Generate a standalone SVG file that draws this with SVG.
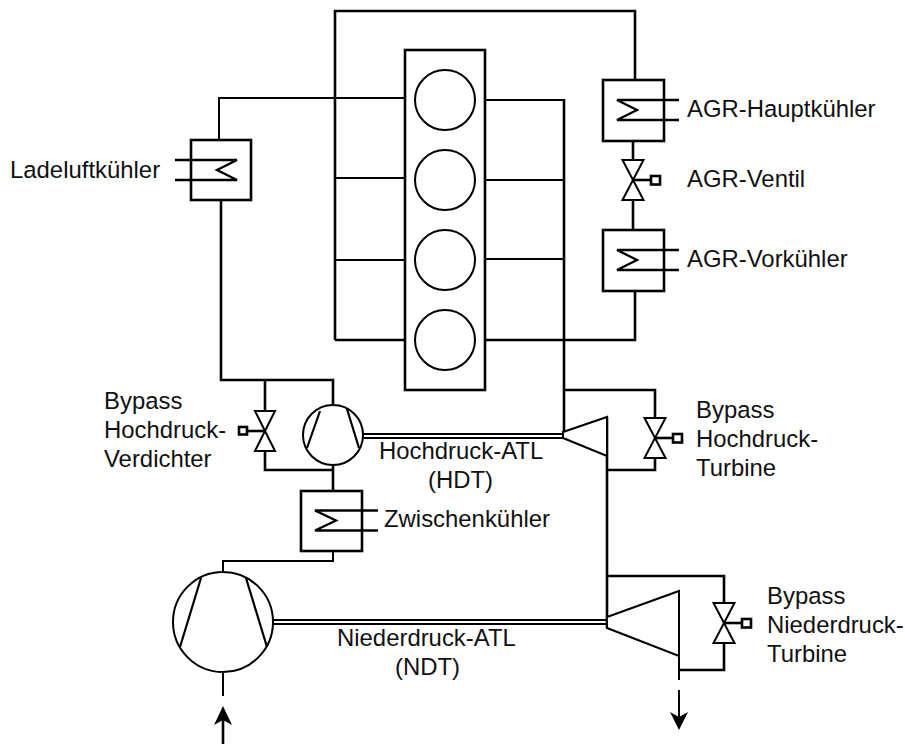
<svg xmlns="http://www.w3.org/2000/svg" width="905" height="744" viewBox="0 0 905 744">
<defs>
<style>
.l{fill:none;stroke:#000;stroke-width:2}
.t{fill:none;stroke:#000;stroke-width:2.6}
.c{fill:none;stroke:#000;stroke-width:2.3}
.h{fill:#fff;stroke:#000;stroke-width:2.6}
.b{fill:#fff;stroke:#000;stroke-width:2.6}
.o{fill:#fff;stroke:#000;stroke-width:2}
.s{fill:none;stroke:#000;stroke-width:2.2}
text{font-family:"Liberation Sans",Arial,sans-serif;font-size:23.9px;fill:#111}
</style>
<g id="valveH"><path class="o" d="M-10.500,-20L10.500,-20L-10.500,20L10.500,20Z"/><path class="t" d="M0,0H18"/><rect x="18" y="-4" width="9" height="8.500" class="h"/></g>
</defs>
<rect width="905" height="744" fill="#fff"/>
<g id="connectors">
<path class="t" d="M335,340V11H635V80"/>
<path class="t" d="M335,340H405"/>
<path class="l" d="M335,178H405M335,260H405"/>
<path class="l" d="M219,140V98H405"/>
<path class="t" d="M221,200V380H333V405"/>
<path class="t" d="M265,380V411M265,451V470H333M333,465V491"/>
<path class="l" d="M485,100H564M485,180H565M485,259H565"/>
<path class="t" d="M485,340H635V291"/>
<path class="t" d="M564,99V438"/>
<path class="t" d="M564,390H655V418M655,458V470H607"/>
<path class="t" d="M607,417V628"/>
<path class="t" d="M607,576H724V603M724,643V670H679"/>
<path class="l" d="M679,656V680"/>
<path class="l" d="M679,690V718"/>
<path class="t" d="M633,141V160M633,200V230"/>
<path class="l" d="M333,551V561H223V572"/>
<path class="l" stroke-width="1.800" d="M362,434H563M362,438H563"/>
<path class="l" stroke-width="1.800" d="M272,620H606M272,624H606"/>
<path class="l" d="M223,673V696"/>
<path class="t" d="M223,718V744"/>
<path d="M223,706L232,725L223,720L214,725Z" fill="#000"/>
<path d="M679,730L670,712L679,717L688,712Z" fill="#000"/>
</g>
<g id="motor"><rect x="405" y="50" width="80" height="340" class="b"/>
<circle cx="445" cy="100" r="30" class="o"/>
<circle cx="445" cy="180" r="30" class="o"/><circle cx="445" cy="260" r="30" class="o"/><circle cx="445" cy="340" r="30" class="o"/></g>
<g id="agr-hauptkuehler"><rect x="603" y="80" width="61" height="61" class="b"/><path class="c" d="M679,100H617L637,110L617,120H679"/></g>
<g id="agr-ventil"><use href="#valveH" x="633" y="180"/></g>
<g id="agr-vorkuehler"><rect x="603" y="230" width="61" height="61" class="b"/><path class="c" d="M679,250H617L637,260L617,270H679"/></g>
<g id="ladeluftkuehler"><rect x="191" y="140" width="60" height="60" class="b"/><path class="c" d="M175,160H237L217,170L237,180H175"/></g>
<g id="bypass-hd-verdichter"><path class="o" d="M255,411H275L255,451H275Z"/><path class="t" d="M265,431H248"/><rect x="239" y="427" width="8" height="7.500" class="h"/></g>
<g id="hd-verdichter"><circle cx="333" cy="435" r="30" class="o"/><path class="s" d="M320,411L307,448M347,409L359,448"/></g>
<g id="zwischenkuehler"><rect x="301" y="491" width="61" height="60" class="b"/><path class="c" d="M378,510.500H315L336,520.500L315,530.500H378"/></g>
<g id="nd-verdichter"><circle cx="223" cy="622" r="50" class="o"/><path class="s" d="M201,578L180,647M246,578L267,647"/></g>
<g id="hd-turbine"><path class="o" d="M563,432L607,417V456L563,438Z"/></g>
<g id="bypass-hd-turbine"><use href="#valveH" x="655" y="438"/></g>
<g id="nd-turbine"><path class="o" d="M607,617L679,591V656L607,628Z"/></g>
<g id="bypass-nd-turbine"><use href="#valveH" x="724" y="623"/></g>
<g id="labels">
<text x="687" y="117">AGR-Hauptkühler</text>
<text x="687" y="187">AGR-Ventil</text>
<text x="687" y="267">AGR-Vorkühler</text>
<text x="10" y="178">Ladeluftkühler</text>
<text x="104" y="409">Bypass</text><text x="104" y="438">Hochdruck-</text><text x="104" y="467">Verdichter</text>
<text x="696" y="418">Bypass</text><text x="696" y="447">Hochdruck-</text><text x="696" y="476">Turbine</text>
<text x="767" y="604">Bypass</text><text x="767" y="633">Niederdruck-</text><text x="767" y="662">Turbine</text>
<text x="379" y="459">Hochdruck-ATL</text><text x="428" y="488">(HDT)</text>
<text x="384" y="527">Zwischenkühler</text>
<text x="337" y="646">Niederdruck-ATL</text><text x="395" y="675">(NDT)</text>
</g>
</svg>
